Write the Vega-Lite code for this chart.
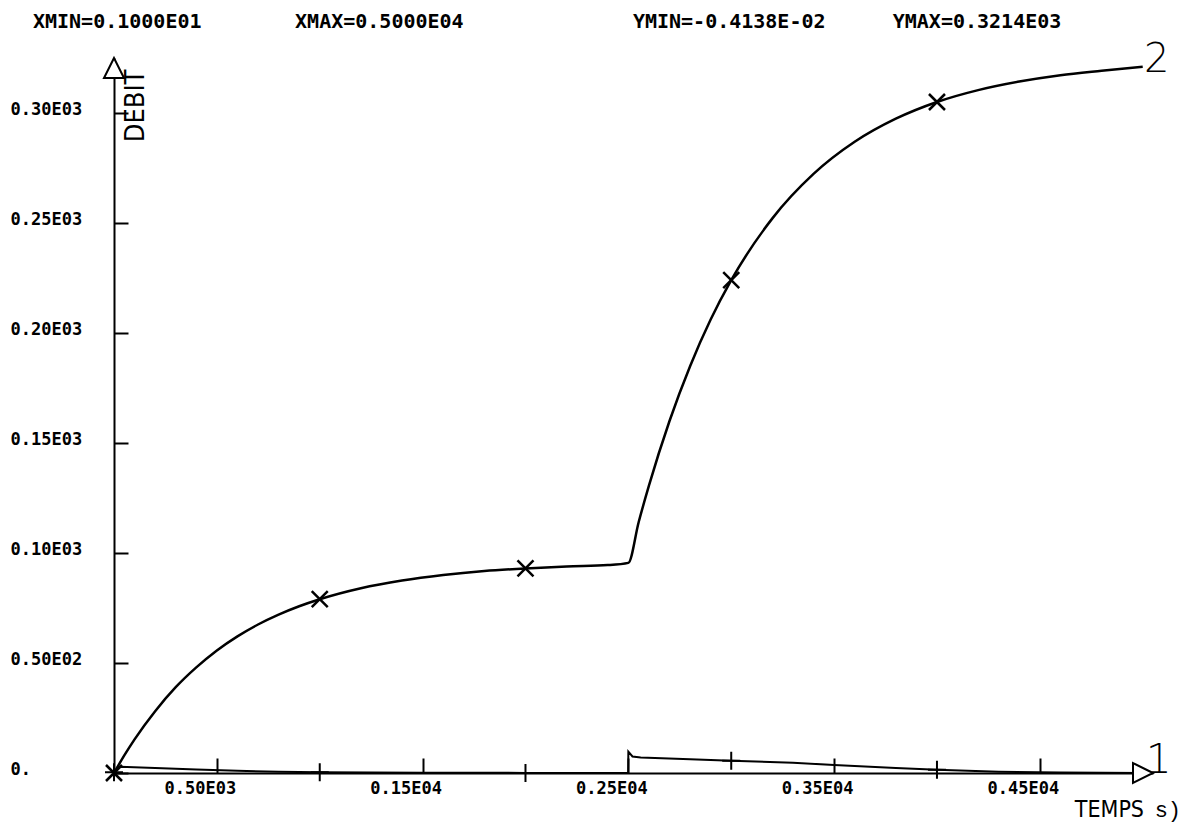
{
  "$schema": "https://vega.github.io/schema/vega-lite/v6.json",
  "width": 1039,
  "height": 715,
  "autosize": {"type": "none"},
  "padding": {"left": 114, "top": 58, "right": 38, "bottom": 52},
  "background": "white",
  "config": {"view": {"stroke": null}},
  "datasets": {
    "c2": [
      {"t": 0, "q": 0}, {"t": 50, "q": 8.0}, {"t": 100, "q": 15.3}, {"t": 200, "q": 28.1},
      {"t": 300, "q": 39.0}, {"t": 400, "q": 48.0}, {"t": 500, "q": 55.7}, {"t": 600, "q": 62.1},
      {"t": 700, "q": 67.5}, {"t": 800, "q": 72.0}, {"t": 900, "q": 75.8}, {"t": 1000, "q": 79.0},
      {"t": 1200, "q": 84.0}, {"t": 1400, "q": 87.5}, {"t": 1600, "q": 90.0}, {"t": 1800, "q": 91.8},
      {"t": 2000, "q": 93.0}, {"t": 2200, "q": 93.9}, {"t": 2400, "q": 94.5}, {"t": 2500, "q": 95.5},
      {"t": 2550, "q": 114.0}, {"t": 2600, "q": 130.6}, {"t": 2700, "q": 160.0}, {"t": 2800, "q": 184.9},
      {"t": 2900, "q": 206.1}, {"t": 3000, "q": 224.0}, {"t": 3200, "q": 252.1}, {"t": 3400, "q": 272.3},
      {"t": 3600, "q": 286.9}, {"t": 3800, "q": 297.4}, {"t": 4000, "q": 305.0}, {"t": 4200, "q": 310.4},
      {"t": 4400, "q": 314.3}, {"t": 4600, "q": 317.2}, {"t": 4800, "q": 319.2}, {"t": 5000, "q": 321.0}
    ],
    "c1": [
      {"t": 0, "q": 0.5}, {"t": 30, "q": 2.8}, {"t": 200, "q": 2.3}, {"t": 400, "q": 1.6},
      {"t": 600, "q": 1.0}, {"t": 800, "q": 0.6}, {"t": 1000, "q": 0.3}, {"t": 1500, "q": 0.1},
      {"t": 2000, "q": 0.05}, {"t": 2499, "q": 0.0}, {"t": 2500, "q": 9.7}, {"t": 2520, "q": 7.5},
      {"t": 2560, "q": 7.0}, {"t": 2800, "q": 6.3}, {"t": 3000, "q": 5.6}, {"t": 3300, "q": 4.7},
      {"t": 3500, "q": 3.6}, {"t": 3800, "q": 2.3}, {"t": 4000, "q": 1.5}, {"t": 4300, "q": 0.6},
      {"t": 4600, "q": 0.2}, {"t": 5000, "q": 0.0}
    ],
    "m2": [
      {"t": 0, "q": 0}, {"t": 1000, "q": 79.0}, {"t": 2000, "q": 93.0}, {"t": 3000, "q": 224.0}, {"t": 4000, "q": 305.0}
    ],
    "m1": [
      {"t": 0, "q": 0.3}, {"t": 1000, "q": 0.3}, {"t": 2000, "q": 0.05}, {"t": 3000, "q": 5.6}, {"t": 4000, "q": 1.5}
    ],
    "header": [
      {"t": -394, "q": 338.6, "label": "XMIN=0.1000E01"},
      {"t": 880, "q": 338.6, "label": "XMAX=0.5000E04"},
      {"t": 2522, "q": 338.6, "label": "YMIN=-0.4138E-02"},
      {"t": 3785, "q": 338.6, "label": "YMAX=0.3214E03"}
    ]
  },
  "encoding": {
    "x": {
      "field": "t", "type": "quantitative",
      "scale": {"domain": [0, 5050], "nice": false, "zero": false},
      "axis": {
        "title": null, "grid": false,
        "values": [500, 1500, 2500, 3500, 4500],
        "labelExpr": "datum.value==500?'0.50E03':datum.value==1500?'0.15E04':datum.value==2500?'0.25E04':datum.value==3500?'0.35E04':'0.45E04'",
        "domainColor": "black", "domainWidth": 2,
        "tickColor": "black", "tickWidth": 2, "tickSize": -15,
        "labelPadding": 22, "labelBaseline": "top", "labelOffset": -17,
        "labelFont": "DejaVu Sans Mono", "labelFontWeight": "bold", "labelFontSize": 17, "labelColor": "black",
        "labelOverlap": false, "labelFlush": false, "labelBound": false
      }
    },
    "y": {
      "field": "q", "type": "quantitative",
      "scale": {"domain": [0, 325], "nice": false, "zero": false},
      "axis": {
        "title": null, "grid": false,
        "values": [0, 50, 100, 150, 200, 250, 300],
        "labelExpr": "datum.value==0?'0.':datum.value==50?'0.50E02':datum.value==100?'0.10E03':datum.value==150?'0.15E03':datum.value==200?'0.20E03':datum.value==250?'0.25E03':'0.30E03'",
        "domainColor": "black", "domainWidth": 2,
        "tickColor": "black", "tickWidth": 2, "tickSize": -14,
        "labelPadding": 118, "labelAlign": "left", "labelBaseline": "middle", "labelOffset": -4,
        "labelFont": "DejaVu Sans Mono", "labelFontWeight": "bold", "labelFontSize": 17, "labelColor": "black",
        "labelOverlap": false, "labelFlush": false, "labelBound": false
      }
    }
  },
  "layer": [
    {"data": {"name": "c2"}, "mark": {"type": "line", "color": "black", "strokeWidth": 2.5, "interpolate": "monotone"}},
    {"data": {"name": "c1"}, "mark": {"type": "line", "color": "black", "strokeWidth": 2}},
    {"data": {"name": "m2"}, "mark": {"type": "point", "shape": "M-1,-1L1,1M1,-1L-1,1", "size": 256, "filled": false, "stroke": "black", "strokeWidth": 2.5, "opacity": 1}},
    {"data": {"name": "m1"}, "mark": {"type": "point", "shape": "M0,-1L0,1M-1,0L1,0", "size": 324, "filled": false, "stroke": "black", "strokeWidth": 2, "opacity": 1}},
    {"data": {"values": [{"t": 0, "q": 325}]}, "mark": {"type": "point", "shape": "M0,0L-1,2L1,2Z", "size": 400, "filled": true, "fill": "white", "stroke": "black", "strokeWidth": 2, "opacity": 1}},
    {"data": {"values": [{"t": 5050, "q": 0}]}, "mark": {"type": "point", "shape": "M0,0L-2,-1L-2,1Z", "size": 400, "filled": true, "fill": "white", "stroke": "black", "strokeWidth": 2, "opacity": 1}},
    {"data": {"name": "header"}, "mark": {"type": "text", "align": "left", "baseline": "alphabetic", "font": "DejaVu Sans Mono", "fontWeight": "bold", "fontSize": 20, "color": "black"}, "encoding": {"text": {"field": "label"}}},
    {"data": {"values": [{"t": 109, "q": 303.2, "label": "DEBIT"}]}, "mark": {"type": "text", "angle": 270, "align": "center", "baseline": "middle", "font": "Liberation Sans Narrow, DejaVu Sans Condensed, sans-serif", "fontSize": 27, "color": "black"}, "encoding": {"text": {"field": "label"}}},
    {"data": {"values": [{"t": 4670, "q": -20, "label": "TEMPS"}]}, "mark": {"type": "text", "align": "left", "baseline": "alphabetic", "font": "Liberation Sans Narrow, DejaVu Sans Condensed, sans-serif", "fontSize": 23, "color": "black"}, "encoding": {"text": {"field": "label"}}},
    {"data": {"values": [{"t": 5058, "q": -20, "label": "s)"}]}, "mark": {"type": "text", "align": "left", "baseline": "alphabetic", "font": "Liberation Mono", "fontSize": 22, "color": "black"}, "encoding": {"text": {"field": "label"}}},
    {"data": {"values": [{"t": 5068, "q": 318.6, "label": "2"}, {"t": 5078, "q": 0, "label": "1"}]}, "mark": {"type": "text", "align": "center", "baseline": "alphabetic", "font": "DejaVu Sans", "fontWeight": 200, "fontSize": 40, "color": "black"}, "encoding": {"text": {"field": "label"}}}
  ]
}
